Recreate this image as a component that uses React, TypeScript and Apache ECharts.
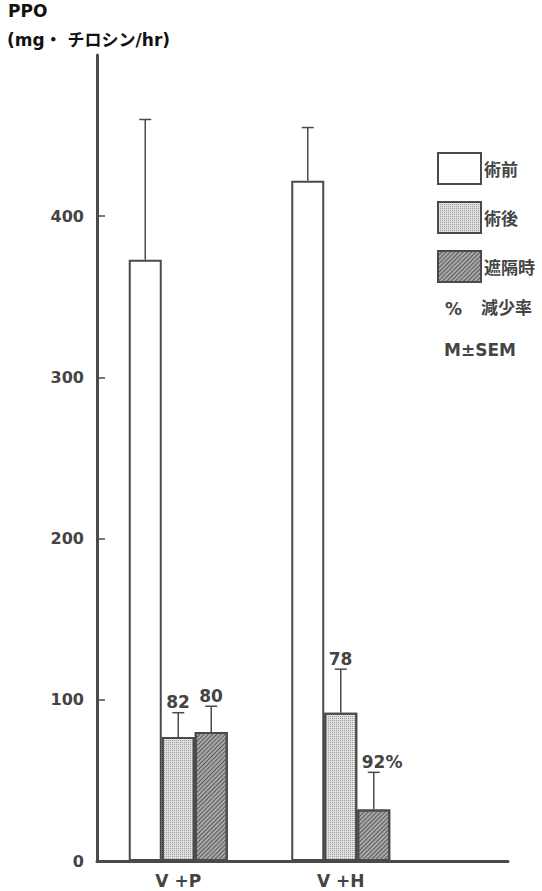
import React, { useEffect, useRef } from "react";
import * as echarts from "echarts";

const categories = ["V +P", "V +H"];
const seriesNames = ["術前", "術後", "遮隔時"];
const preOp = [373, 422];
const postOp = [77, 92];
const blocked = [80, 32];
const preOpSEM = [87, 33];
const postOpSEM = [15, 27];
const blockedSEM = [16, 23];
const postOpReduction = ["82", "78"];
const blockedReduction = ["80", "92%"];
const yTickValues = [0, 100, 200, 300, 400];
const yInnerTicks = [100, 200, 300, 400];

const BAR_W = 33;
const INK = "#4a4a4a";
const FONT = "'DejaVu Sans', 'Noto Sans CJK JP', sans-serif";
const JFONT = "'Noto Sans CJK JP', sans-serif";

function errorSeries(idx: number, means: number[], sems: number[], labels: string[] | null) {
  return {
    type: "custom",
    xAxisIndex: 0,
    yAxisIndex: 0,
    z: 10,
    silent: true,
    data: categories.map((_, i) => [i, means[i], means[i] + sems[i]]),
    renderItem: (params: any, api: any) => {
      const ci = api.value(0);
      const base = api.coord([ci, api.value(1)]);
      const top = api.coord([ci, api.value(2)]);
      const cx = base[0] + (idx - 1) * BAR_W;
      const children: any[] = [
        { type: "line", shape: { x1: cx, y1: base[1], x2: cx, y2: top[1] }, style: { stroke: INK, lineWidth: 1.5 } },
        { type: "line", shape: { x1: cx - 6, y1: top[1], x2: cx + 6, y2: top[1] }, style: { stroke: INK, lineWidth: 1.5 } },
      ];
      if (labels) {
        children.push({
          type: "text",
          x: cx - 12,
          y: top[1] - 2,
          style: { text: labels[params.dataIndex], fontSize: 17, fontWeight: "bold", fontFamily: FONT, fill: "#444", align: "left", verticalAlign: "bottom" },
        });
      }
      return { type: "group", children };
    },
  };
}

export default function App() {
  const ref = useRef<HTMLDivElement>(null);
  useEffect(() => {
    if (!ref.current) return;
    const chart = echarts.init(ref.current, undefined, { renderer: "svg" });
    const barBase = { type: "bar", xAxisIndex: 0, yAxisIndex: 0, barWidth: BAR_W, barGap: "0%" };
    chart.setOption({
      animation: false,
      backgroundColor: "#ffffff",
      grid: [
        { left: 97, right: 120, top: 55, bottom: 30 },
        { left: 97, right: 34, top: 55, bottom: 30 },
      ],
      xAxis: [
        {
          type: "category",
          gridIndex: 0,
          data: categories,
          axisLine: { show: false },
          axisTick: { show: false },
          axisLabel: { fontSize: 17, fontWeight: "bold", color: "#444", fontFamily: FONT, margin: 11 },
        },
        {
          type: "value",
          gridIndex: 1,
          min: 0,
          max: 1,
          axisLine: { show: true, onZero: false, lineStyle: { color: INK, width: 3 } },
          axisTick: { show: false },
          axisLabel: { show: false },
          splitLine: { show: false },
        },
      ],
      yAxis: [
        {
          type: "value",
          gridIndex: 0,
          min: 0,
          max: 500,
          interval: 100,
          axisLine: { show: true, lineStyle: { color: INK, width: 3 } },
          axisTick: { show: true, inside: true, length: 8, lineStyle: { color: INK, width: 1.5 }, customValues: yInnerTicks },
          axisLabel: { fontSize: 16, fontWeight: "bold", color: "#444", fontFamily: FONT, margin: 13, customValues: yTickValues },
          splitLine: { show: false },
        },
        { type: "value", gridIndex: 1, show: false, min: 0, max: 1 },
      ],
      legend: {
        data: seriesNames,
        orient: "vertical",
        left: 432,
        top: 147,
        itemWidth: 43,
        itemHeight: 31,
        itemGap: 16,
        icon: "rect",
        textStyle: { fontSize: 17, fontWeight: "bold", color: "#444", fontFamily: JFONT, padding: [0, 0, 0, -2] },
      },
      graphic: [
        { type: "text", left: 8, top: 2, style: { text: "PPO", fontSize: 17, fontWeight: "bold", fontFamily: FONT, fill: "#111" } },
        { type: "text", left: 7, top: 31, style: { text: "(mg・ チロシン/hr)", fontSize: 17, fontWeight: "bold", fontFamily: FONT, fill: "#111" } },
        { type: "text", left: 445, top: 300, style: { text: "%", fontSize: 17, fontWeight: "bold", fontFamily: FONT, fill: "#444" } },
        { type: "text", left: 481, top: 298, style: { text: "減少率", fontSize: 17, fontWeight: "bold", fontFamily: JFONT, fill: "#444" } },
        { type: "text", left: 444, top: 341, style: { text: "M±SEM", fontSize: 17, fontWeight: "bold", fontFamily: FONT, fill: "#444" } },
      ],
      series: [
        {
          ...barBase,
          name: seriesNames[0],
          data: preOp,
          itemStyle: { color: "#ffffff", borderColor: INK, borderWidth: 2 },
        },
        {
          ...barBase,
          name: seriesNames[1],
          data: postOp,
          itemStyle: {
            color: "#dedede",
            borderColor: INK,
            borderWidth: 2,
            decal: { symbol: "rect", symbolSize: 1, dashArrayX: [1, 1], dashArrayY: [1, 1], color: "#a0a0a0", backgroundColor: "#e6e6e6", rotation: 0 },
          },
        },
        {
          ...barBase,
          name: seriesNames[2],
          data: blocked,
          itemStyle: {
            color: "#a8a8a8",
            borderColor: INK,
            borderWidth: 2,
            decal: { symbol: "rect", symbolSize: 1, dashArrayX: [[1, 0]], dashArrayY: [1, 2], rotation: -Math.PI / 4, color: "#5a5a5a", backgroundColor: "#b4b4b4" },
          },
        },
        errorSeries(0, preOp, preOpSEM, null),
        errorSeries(1, postOp, postOpSEM, postOpReduction),
        errorSeries(2, blocked, blockedSEM, blockedReduction),
      ],
    });
    return () => chart.dispose();
  }, []);
  return <div ref={ref} style={{ position: "absolute", left: 0, top: 0, width: 542, height: 891 }} />;
}
